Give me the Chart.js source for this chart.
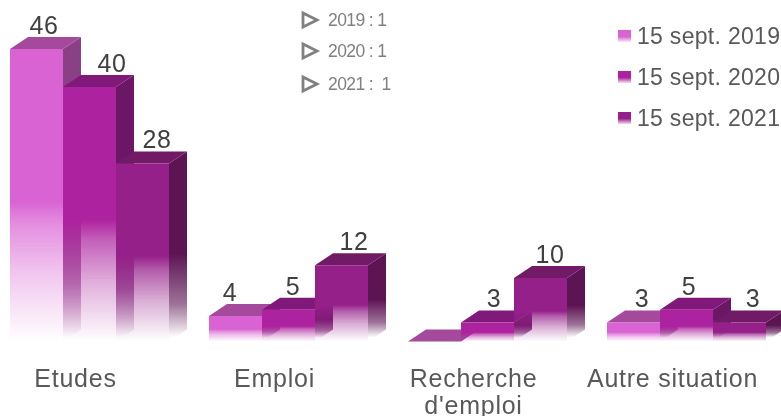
<!DOCTYPE html>
<html>
<head>
<meta charset="utf-8">
<title>Situation au 15 septembre</title>
<script src="https://cdn.jsdelivr.net/npm/chart.js@4"></script>
<style>
    html, body { margin: 0; background: #fff; overflow: hidden; width: 781px; height: 416px; }
    #chart { position: absolute; left: -10px; top: 0; }
</style>
</head>
<body>
<canvas id="chart" width="796" height="416"></canvas>
<script>
const categories = ['Etudes', 'Emploi', ["Recherche", "d'emploi"], 'Autre situation'];
const seriesNames = ['15 sept. 2019', '15 sept. 2020', '15 sept. 2021'];
const values2019 = [46, 4, 0, 3];
const values2020 = [40, 5, 3, 5];
const values2021 = [28, 12, 10, 3];
const notes = ['2019 : 1', '2020 : 1', '2021 :  1'];

// face colours per series: front, top, side
const faces = [
    { front: [217, 99, 211], top: '#a4499c', side: [139, 63, 133] },
    { front: [173, 34, 158], top: '#80197a', side: [108, 23, 102] },
    { front: [150, 32, 138], top: '#711b67', side: [92, 20, 83] }
];
// the value labels sit off-centre in the original
const labelShift = [
    [7.5, -5.5, 0, 8.5],
    [22.5, 4.5, 6.5, 2.5],
    [14.5, 12.5, 9.5, 13.5]
];
const depthX = 18;
const depthY = 12;

function rgba(c, a) {
    return `rgba(${c[0]},${c[1]},${c[2]},${a})`;
}

// solid for the upper half, then fades out towards the floor
function fade(ctx, top, bottom, c) {
    const g = ctx.createLinearGradient(0, top, 0, bottom);
    g.addColorStop(0, rgba(c, 1));
    g.addColorStop(0.52, rgba(c, 1));
    g.addColorStop(0.6, rgba(c, 0.72));
    g.addColorStop(0.77, rgba(c, 0.36));
    g.addColorStop(1, rgba(c, 0));
    return g;
}

// the side faces keep their colour longer than the fronts
function fadeSide(ctx, top, bottom, c) {
    const g = ctx.createLinearGradient(0, top, 0, bottom);
    g.addColorStop(0, rgba(c, 1));
    g.addColorStop(0.55, rgba(c, 1));
    g.addColorStop(0.82, rgba(c, 0.6));
    g.addColorStop(1, rgba(c, 0));
    return g;
}

function frontColor(context) {
    const chart = context.chart;
    const c = faces[context.datasetIndex].front;
    const y = chart.scales.y;
    if (!y || !context.parsed) return rgba(c, 1);
    const top = y.getPixelForValue(context.parsed.y);
    const bottom = y.getPixelForValue(0);
    if (!Number.isFinite(top) || !Number.isFinite(bottom)) return rgba(c, 1);
    return fade(chart.ctx, top, bottom, c);
}

// Chart.js paints the first dataset last, here the boxes must stack left to right,
// so paint them in series order: side, top, then the library's own bar as the front
const boxes = {
    id: 'boxes',
    beforeDatasetsDraw(chart) {
        const ctx = chart.ctx;
        chart.data.datasets.forEach((ds, i) => {
            const f = faces[i];
            chart.getDatasetMeta(i).data.forEach(bar => {
                const left = bar.x - bar.width / 2;
                const right = bar.x + bar.width / 2;
                ctx.save();
                if (bar.base - bar.y > 0) {
                    ctx.fillStyle = fadeSide(ctx, bar.y - depthY, bar.base - 4, f.side);
                    ctx.beginPath();
                    ctx.moveTo(right, bar.y);
                    ctx.lineTo(right + depthX, bar.y - depthY);
                    ctx.lineTo(right + depthX, bar.base - depthY);
                    ctx.lineTo(right, bar.base);
                    ctx.closePath();
                    ctx.fill();
                }
                ctx.fillStyle = f.top;
                ctx.beginPath();
                ctx.moveTo(left, bar.y);
                ctx.lineTo(left + depthX, bar.y - depthY);
                ctx.lineTo(right + depthX, bar.y - depthY);
                ctx.lineTo(right, bar.y);
                ctx.closePath();
                ctx.fill();
                ctx.restore();
                bar.draw(ctx);
            });
        });
        return false;
    }
};

const overlays = {
    id: 'overlays',
    beforeDraw(chart) {
        chart.ctx.letterSpacing = '0.75px';
    },
    afterDraw(chart) {
        const ctx = chart.ctx;
        ctx.save();
        ctx.textBaseline = 'alphabetic';

        // values over the boxes
        ctx.letterSpacing = '0.5px';
        ctx.font = '25px "Liberation Sans", Arial, sans-serif';
        ctx.fillStyle = '#404040';
        ctx.textAlign = 'center';
        chart.data.datasets.forEach((ds, i) => {
            chart.getDatasetMeta(i).data.forEach((bar, j) => {
                if (!ds.data[j]) return;
                ctx.fillText(ds.data[j], bar.x + labelShift[i][j], bar.y - depthY - 3);
            });
        });

        // series legend, top right
        ctx.textAlign = 'left';
        ctx.textBaseline = 'middle';
        ctx.letterSpacing = '0.3px';
        ctx.font = '23px "Liberation Sans", Arial, sans-serif';
        chart.data.datasets.forEach((ds, i) => {
            const y = 30 + i * 41;
            const g = ctx.createLinearGradient(0, y, 0, y + 12);
            g.addColorStop(0, rgba(faces[i].front, 1));
            g.addColorStop(0.55, rgba(faces[i].front, 1));
            g.addColorStop(1, rgba(faces[i].front, 0.15));
            ctx.fillStyle = g;
            ctx.fillRect(628, y, 13, 12);
            ctx.fillStyle = '#595959';
            ctx.fillText(ds.label, 647, y + 8);
        });

        // small notes with the outlined arrows
        ctx.letterSpacing = '-0.6px';
        ctx.font = '17.5px "Liberation Sans", Arial, sans-serif';
        ctx.strokeStyle = '#808080';
        ctx.lineWidth = 2.8;
        notes.forEach((note, i) => {
            const y = [20, 51, 84][i];
            ctx.beginPath();
            ctx.moveTo(313, y - 7);
            ctx.lineTo(327, y);
            ctx.lineTo(313, y + 7);
            ctx.closePath();
            ctx.stroke();
            ctx.fillStyle = '#808080';
            ctx.fillText(note, 338, y + 1);
        });
        ctx.restore();
    }
};

const seriesValues = [values2019, values2020, values2021];

new Chart(document.getElementById('chart'), {
    type: 'bar',
    data: {
        labels: categories,
        datasets: seriesNames.map((name, i) => ({
            label: name,
            data: seriesValues[i],
            backgroundColor: frontColor,
            borderWidth: 0
        }))
    },
    options: {
        responsive: false,
        animation: false,
        devicePixelRatio: 1,
        layout: { padding: 0 },
        categoryPercentage: 0.799,
        barPercentage: 1,
        plugins: {
            legend: { display: false },
            tooltip: { enabled: false }
        },
        scales: {
            x: {
                grid: { display: false },
                border: { display: false },
                afterFit(scale) { scale.height = 74.5; },
                ticks: {
                    color: '#595959',
                    font: { family: '"Liberation Sans", Arial, sans-serif', size: 25, lineHeight: 1.08 },
                    labelOffset: -14,
                    padding: 17,
                    maxRotation: 0,
                    autoSkip: false
                }
            },
            y: { display: false, min: 0, max: 53.7 }
        }
    },
    plugins: [boxes, overlays]
});
</script>
</body>
</html>
